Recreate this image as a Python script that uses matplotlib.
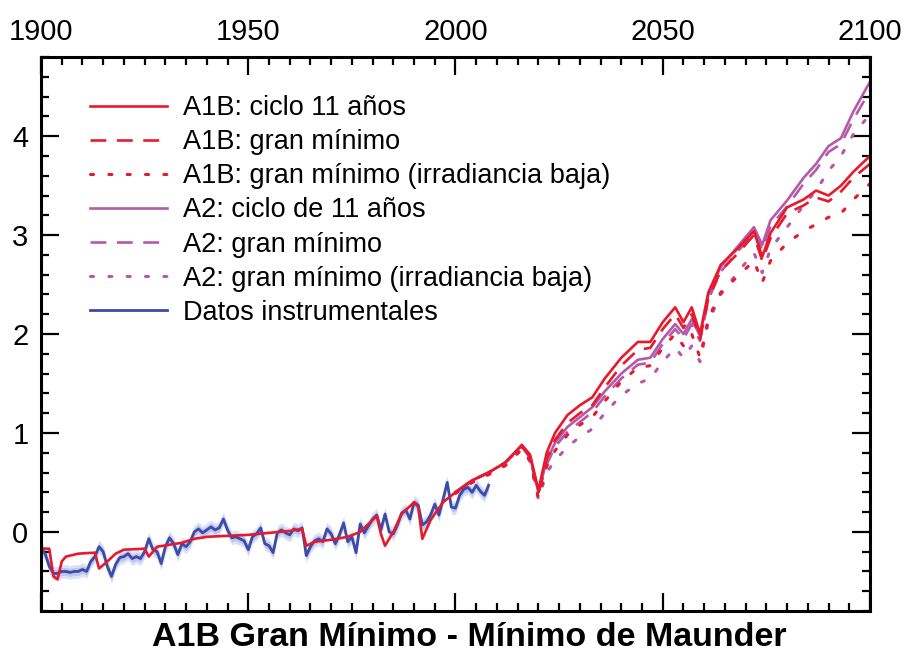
import numpy as np
import matplotlib
matplotlib.use("Agg")
import matplotlib.pyplot as plt
from matplotlib.ticker import MultipleLocator

plt.rcParams["font.family"] = ["Liberation Sans", "DejaVu Sans"]

RED = "#e8192c"
PURPLE = "#b55aa8"
BLUE = "#3c4ba5"

# instrumental record (annual)
instr_years = np.arange(1900, 2009)
instr_vals = [
    -0.17, -0.22, -0.35, -0.42, -0.42, -0.40, -0.40, -0.41, -0.40, -0.40,
    -0.38, -0.40, -0.30, -0.25, -0.15, -0.20, -0.35, -0.45, -0.33, -0.26,
    -0.25, -0.22, -0.27, -0.25, -0.27, -0.20, -0.07, -0.18, -0.20, -0.32,
    -0.15, -0.06, -0.12, -0.23, -0.12, -0.15, -0.10, 0.00, 0.03, -0.01,
    0.02, 0.05, 0.02, 0.04, 0.13, 0.02, -0.06, -0.05, -0.07, -0.09,
    -0.18, -0.05, -0.02, 0.04, -0.12, -0.14, -0.21, -0.01, 0.02, -0.01,
    -0.03, 0.03, 0.01, 0.04, -0.24, -0.15, -0.09, -0.07, -0.10, 0.03,
    -0.02, -0.12, -0.03, 0.09, -0.10, -0.05, -0.21, 0.08, -0.01, 0.06,
    0.13, 0.17, 0.02, 0.18, 0.00, -0.02, 0.07, 0.19, 0.22, 0.13,
    0.30, 0.27, 0.07, 0.10, 0.17, 0.28, 0.17, 0.33, 0.50, 0.25,
    0.24, 0.37, 0.43, 0.45, 0.40, 0.47, 0.41, 0.37, 0.47,
]

# simulated historical period (shared by all runs)
hist_years = [1900, 1902, 1903, 1904, 1905, 1906, 1909, 1913, 1914, 1916,
              1918, 1920, 1925, 1926, 1928, 1931, 1934, 1937, 1940, 1945,
              1950, 1955, 1960, 1963, 1964, 1966, 1970, 1974, 1977, 1981,
              1982, 1983, 1985, 1987, 1990, 1991, 1992, 1994, 1997, 2000]
hist_model = [-0.17, -0.17, -0.45, -0.48, -0.30, -0.25, -0.22, -0.21, -0.37, -0.30,
              -0.22, -0.18, -0.17, -0.25, -0.15, -0.13, -0.11, -0.07, -0.05, -0.04,
              -0.03, -0.01, 0.01, 0.03, -0.14, -0.10, -0.08, -0.05, 0.00, 0.16,
              -0.02, -0.14, 0.00, 0.18, 0.30, 0.25, -0.07, 0.12, 0.30, 0.40]

# scenario projections
proj_years = [2000, 2004, 2008, 2012, 2016, 2018, 2020, 2022, 2024, 2027,
              2030, 2033, 2036, 2040, 2044, 2047, 2050, 2053, 2055, 2057,
              2059, 2061, 2064, 2068, 2072, 2074, 2076, 2080, 2084, 2087,
              2090, 2093, 2096, 2100]
a1b_cycle = [0.40, 0.52, 0.60, 0.70, 0.88, 0.78, 0.42, 0.80, 1.00, 1.18,
             1.28, 1.36, 1.55, 1.76, 1.92, 1.92, 2.12, 2.27, 2.12, 2.27,
             2.00, 2.42, 2.70, 2.86, 3.04, 2.78, 3.02, 3.28, 3.36, 3.45,
             3.40, 3.50, 3.64, 3.80]
a1b_gm = [0.40, 0.52, 0.60, 0.70, 0.87, 0.76, 0.40, 0.74, 0.93, 1.10,
          1.20, 1.28, 1.46, 1.68, 1.84, 1.86, 2.05, 2.20, 2.06, 2.20,
          1.95, 2.36, 2.64, 2.81, 3.00, 2.74, 2.97, 3.22, 3.30, 3.38,
          3.34, 3.44, 3.58, 3.72]
a1b_gm_low = [0.39, 0.50, 0.58, 0.67, 0.84, 0.72, 0.34, 0.66, 0.82, 0.98,
              1.08, 1.16, 1.32, 1.52, 1.66, 1.68, 1.86, 2.00, 1.88, 2.00,
              1.76, 2.16, 2.42, 2.58, 2.74, 2.52, 2.74, 2.92, 3.04, 3.11,
              3.18, 3.22, 3.36, 3.52]
a2_cycle = [0.40, 0.52, 0.60, 0.70, 0.87, 0.76, 0.40, 0.72, 0.90, 1.06,
            1.16, 1.26, 1.42, 1.60, 1.74, 1.76, 1.95, 2.10, 2.00, 2.15,
            1.98, 2.40, 2.68, 2.88, 3.08, 2.90, 3.15, 3.35, 3.58, 3.72,
            3.90, 3.98, 4.25, 4.55]
a2_gm = [0.40, 0.52, 0.60, 0.70, 0.86, 0.75, 0.39, 0.68, 0.86, 1.01,
         1.11, 1.21, 1.37, 1.55, 1.69, 1.71, 1.90, 2.05, 1.95, 2.10,
         1.93, 2.35, 2.63, 2.83, 3.03, 2.85, 3.09, 3.29, 3.52, 3.66,
         3.84, 3.92, 4.17, 4.46]
a2_gm_low = [0.39, 0.50, 0.58, 0.67, 0.83, 0.71, 0.33, 0.60, 0.72, 0.86,
             0.96, 1.04, 1.20, 1.38, 1.50, 1.55, 1.72, 1.86, 1.76, 1.88,
             1.72, 2.12, 2.40, 2.62, 2.82, 2.62, 2.86, 3.08, 3.30, 3.45,
             3.65, 3.80, 4.02, 4.22]

LABELS = [
    "A1B: ciclo 11 años",
    "A1B: gran mínimo",
    "A1B: gran mínimo (irradiancia baja)",
    "A2: ciclo de 11 años",
    "A2: gran mínimo",
    "A2: gran mínimo (irradiancia baja)",
    "Datos instrumentales",
]

DASHED = (0, (6, 4))
DOTTED = (0, (1, 5))


def main():
    fig = plt.figure(figsize=(9.13, 6.59), dpi=100)
    ax = fig.add_axes([0.0449, 0.0728, 0.908, 0.8407])

    lw = 1.9
    # soft uncertainty halo around the observations
    iv = np.array(instr_vals)
    ax.fill_between(instr_years, iv - 0.07, iv + 0.07, color="#c9cff2", alpha=0.6, lw=0)
    ax.fill_between(instr_years, iv - 0.04, iv + 0.04, color="#a9b3ea", alpha=0.6, lw=0)

    h_a2l, = ax.plot(proj_years, a2_gm_low, color=PURPLE, lw=2.2, ls=DOTTED, dash_capstyle="round")
    h_a2g, = ax.plot(proj_years, a2_gm, color=PURPLE, lw=lw, ls=DASHED)
    h_a2c, = ax.plot(proj_years, a2_cycle, color=PURPLE, lw=lw)
    h_a1l, = ax.plot(proj_years, a1b_gm_low, color=RED, lw=2.2, ls=DOTTED, dash_capstyle="round")
    h_a1g, = ax.plot(proj_years, a1b_gm, color=RED, lw=lw, ls=DASHED)
    h_a1c, = ax.plot(proj_years, a1b_cycle, color=RED, lw=lw)
    h_obs, = ax.plot(instr_years, instr_vals, color=BLUE, lw=2.0)
    ax.plot(hist_years, hist_model, color=RED, lw=lw)

    ax.set_xlim(1900, 2100)
    ax.set_ylim(-0.8, 4.8)

    ax.xaxis.set_major_locator(MultipleLocator(50))
    ax.xaxis.set_minor_locator(MultipleLocator(5))
    ax.yaxis.set_major_locator(MultipleLocator(1))
    ax.yaxis.set_minor_locator(MultipleLocator(0.2))

    ax.tick_params(axis="x", which="both", top=True, bottom=True,
                   labeltop=True, labelbottom=False, labelsize=21, pad=8)
    ax.tick_params(axis="y", which="both", left=True, right=True,
                   labelleft=True, labelright=False, labelsize=21, pad=9)
    ax.tick_params(which="both", direction="in", width=1.6)
    ax.tick_params(which="major", length=13)
    ax.tick_params(which="minor", length=6)
    for s in ax.spines.values():
        s.set_linewidth(2.2)

    handles = [h_a1c, h_a1g, h_a1l, h_a2c, h_a2g, h_a2l, h_obs]
    ax.legend(handles, LABELS, loc="upper left", frameon=False,
              bbox_to_anchor=(90 / 913, 1 - 95 / 659), bbox_transform=fig.transFigure,
              fontsize=19.5, handlelength=2.84, handletextpad=0.6,
              labelspacing=0.3, borderpad=0, borderaxespad=0)

    fig.text(469 / 913, 6 / 659, "A1B Gran Mínimo - Mínimo de Maunder",
             ha="center", va="bottom", fontsize=24.5, fontweight="bold")

    fig.savefig("out.png", dpi=100)


if __name__ == "__main__":
    main()
